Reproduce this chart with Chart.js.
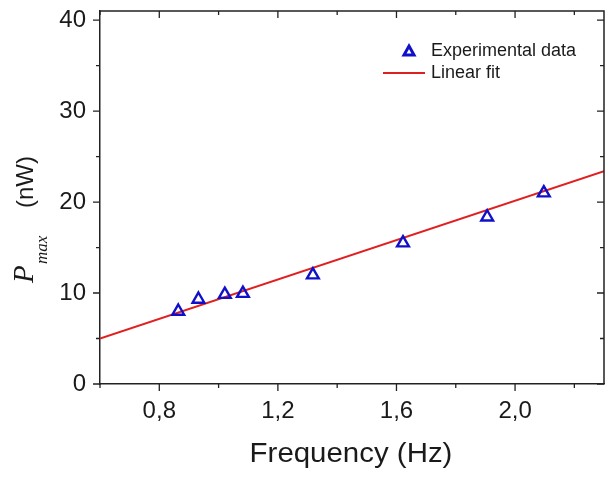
<!DOCTYPE html>
<html><head><meta charset="utf-8">
<script src="https://cdn.jsdelivr.net/npm/chart.js@4"></script>
<style>html,body{margin:0;padding:0;background:#fff}#wrap{width:605px;height:477px}</style>
</head><body><div id="wrap"><canvas id="c" width="605" height="477"></canvas></div>
<script>
// ---- data ----
const freqHz = [0.864, 0.932, 1.021, 1.082, 1.318, 1.622, 1.906, 2.097];
const pmaxNW = [7.99, 9.31, 9.84, 9.95, 11.98, 15.5, 18.35, 21.0];
const fitX = [0.6, 2.3];
const fitY = [5.0, 23.4];
const xMajorTicks = [0.8, 1.2, 1.6, 2.0];
const xMinorTicks = [0.6, 1.0, 1.4, 1.8, 2.2];
const xTickLabels = ['0,8', '1,2', '1,6', '2,0'];
const yMajorTicks = [0, 10, 20, 30, 40];
const yMinorTicks = [5, 15, 25, 35];
const yTickLabels = ['0', '10', '20', '30', '40'];
const seriesNames = ['Experimental data', 'Linear fit'];

const AX = '#222';
const BLUE = '#1010c8';
const RED = '#e02020';

const decor = {
  id: 'decor',
  afterDraw(chart) {
    const ctx = chart.ctx, a = chart.chartArea;
    const xs = chart.scales.x, ys = chart.scales.y;
    ctx.save();
    ctx.strokeStyle = AX; ctx.lineWidth = 1.5;
    ctx.beginPath();
    ctx.moveTo(a.left, a.top); ctx.lineTo(a.right, a.top); ctx.lineTo(a.right, a.bottom);
    ctx.stroke();
    ctx.lineWidth = 1.3;
    const tick = (vals, len, axis) => {
      vals.forEach(v => {
        ctx.beginPath();
        if (axis === 'x') {
          const px = xs.getPixelForValue(v);
          ctx.moveTo(px, a.bottom); ctx.lineTo(px, a.bottom + len);
          ctx.moveTo(px, a.top); ctx.lineTo(px, a.top + len);
        } else {
          const py = ys.getPixelForValue(v);
          ctx.moveTo(a.left, py); ctx.lineTo(a.left - len, py);
          ctx.moveTo(a.right, py); ctx.lineTo(a.right - len, py);
        }
        ctx.stroke();
      });
    };
    tick(xMajorTicks, 7, 'x'); tick(xMinorTicks, 4, 'x');
    tick(yMajorTicks, 7, 'y'); tick(yMinorTicks, 4, 'y');

    // x title
    ctx.fillStyle = '#1a1a1a';
    ctx.save();
    ctx.translate(351, 462);
    ctx.scale(1.09, 1);
    ctx.font = '27px "Liberation Sans", Arial, sans-serif';
    ctx.textAlign = 'center'; ctx.textBaseline = 'alphabetic';
    ctx.fillText('Frequency (Hz)', 0, 0);
    ctx.restore();

    // y title (rotated)
    ctx.save();
    ctx.translate(33, 283);
    ctx.rotate(-Math.PI / 2);
    ctx.textAlign = 'left'; ctx.textBaseline = 'alphabetic';
    ctx.font = 'italic 29px "Liberation Serif", "Times New Roman", serif';
    ctx.fillText('P', 0, 0);
    ctx.font = 'italic 17px "Liberation Serif", "Times New Roman", serif';
    ctx.fillText('max', 19, 14);
    ctx.font = '24px "Liberation Sans", Arial, sans-serif';
    ctx.save();
    ctx.scale(1.0, 1.0);
    ctx.fillText('(nW)', 75, 0);
    ctx.restore();
    ctx.restore();

    // legend
    ctx.font = '18px "Liberation Sans", Arial, sans-serif';
    ctx.textAlign = 'left'; ctx.textBaseline = 'middle';
    ctx.fillStyle = '#1a1a1a';
    ctx.fillText(seriesNames[0], 431, 51);
    ctx.fillText(seriesNames[1], 431, 73);
    ctx.strokeStyle = BLUE; ctx.lineWidth = 3;
    ctx.beginPath();
    ctx.moveTo(409, 46); ctx.lineTo(414, 55); ctx.lineTo(404, 55); ctx.closePath();
    ctx.stroke();
    ctx.strokeStyle = RED; ctx.lineWidth = 2;
    ctx.beginPath(); ctx.moveTo(383, 73); ctx.lineTo(425, 73); ctx.stroke();
    ctx.restore();
  }
};

new Chart(document.getElementById('c'), {
  type: 'scatter',
  data: {
    datasets: [
      {
        label: seriesNames[1],
        data: fitX.map((x, i) => ({x, y: fitY[i]})),
        showLine: true, borderColor: RED, borderWidth: 2, pointRadius: 0, order: 2
      },
      {
        label: seriesNames[0],
        data: freqHz.map((x, i) => ({x, y: pmaxNW[i]})),
        pointStyle: 'triangle', pointRadius: 6.8, borderColor: BLUE,
        backgroundColor: 'rgba(0,0,0,0)', pointBorderWidth: 2.4, borderWidth: 2.4, order: 1
      }
    ]
  },
  options: {
    responsive: false, animation: false,
    layout: { autoPadding: false, padding: { top: 11, right: 1, left: 0, bottom: 0 } },
    plugins: { legend: { display: false }, tooltip: { enabled: false } },
    scales: {
      x: {
        type: 'linear', min: 0.6, max: 2.3,
        afterBuildTicks: s => { s.ticks = xMajorTicks.map(v => ({value: v})); },
        afterFit: s => { s.height = 93; s.paddingLeft = 0; s.paddingRight = 0; },
        grid: { display: false },
        border: { display: true, color: AX, width: 1.5 },
        ticks: {
          padding: 5, color: '#1a1a1a', maxRotation: 0,
          font: { family: '"Liberation Sans", Arial, sans-serif', size: 24 },
          callback: (v) => { const i = xMajorTicks.findIndex(t => Math.abs(t - v) < 1e-6); return i >= 0 ? xTickLabels[i] : ''; }
        }
      },
      y: {
        type: 'linear', min: 0, max: 41,
        afterBuildTicks: s => { s.ticks = yMajorTicks.map(v => ({value: v})); },
        afterFit: s => { s.width = 100; s.paddingTop = 0; s.paddingBottom = 0; },
        grid: { display: false },
        border: { display: true, color: AX, width: 1.5 },
        ticks: {
          padding: 6, color: '#1a1a1a',
          font: { family: '"Liberation Sans", Arial, sans-serif', size: 24 },
          callback: (v) => { const i = yMajorTicks.indexOf(v); return i >= 0 ? yTickLabels[i] : ''; }
        }
      }
    }
  },
  plugins: [decor]
});
</script></body></html>
